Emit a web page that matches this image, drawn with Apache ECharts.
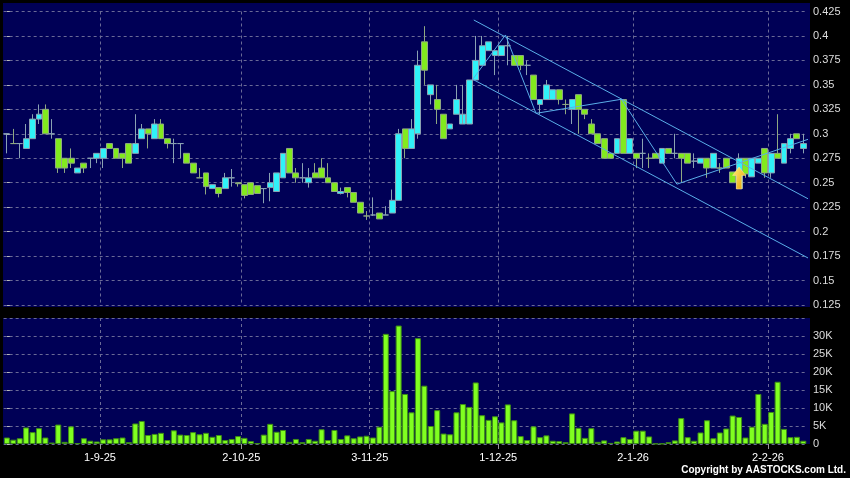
<!DOCTYPE html>
<html><head><meta charset="utf-8">
<script src="https://cdn.jsdelivr.net/npm/echarts@6/dist/echarts.min.js"></script>
<style>html,body{margin:0;padding:0;background:#000;}#c{width:850px;height:478px;}</style>
</head><body><div id="c"></div>
<script>
const dates = ['11-8-25','12-8-25','13-8-25','14-8-25','15-8-25','18-8-25','19-8-25','20-8-25','21-8-25','22-8-25','25-8-25','26-8-25','27-8-25','28-8-25','29-8-25',
'1-9-25','2-9-25','3-9-25','4-9-25','5-9-25','8-9-25','9-9-25','10-9-25','11-9-25','12-9-25','15-9-25','16-9-25','17-9-25','18-9-25','19-9-25','22-9-25','23-9-25','24-9-25','25-9-25','26-9-25','29-9-25','30-9-25',
'2-10-25','3-10-25','6-10-25','8-10-25','9-10-25','10-10-25','13-10-25','14-10-25','15-10-25','16-10-25','17-10-25','20-10-25','21-10-25','22-10-25','23-10-25','24-10-25','27-10-25','28-10-25','30-10-25','31-10-25',
'3-11-25','4-11-25','5-11-25','6-11-25','7-11-25','10-11-25','11-11-25','12-11-25','13-11-25','14-11-25','17-11-25','18-11-25','19-11-25','20-11-25','21-11-25','24-11-25','25-11-25','26-11-25','27-11-25','28-11-25',
'1-12-25','2-12-25','3-12-25','4-12-25','5-12-25','8-12-25','9-12-25','10-12-25','11-12-25','12-12-25','15-12-25','16-12-25','17-12-25','18-12-25','19-12-25','22-12-25','23-12-25','24-12-25','29-12-25','30-12-25','31-12-25',
'2-1-26','5-1-26','6-1-26','7-1-26','8-1-26','9-1-26','12-1-26','13-1-26','14-1-26','15-1-26','16-1-26','19-1-26','20-1-26','21-1-26','22-1-26','23-1-26','26-1-26','27-1-26','28-1-26','29-1-26','30-1-26',
'2-2-26','3-2-26','4-2-26','5-2-26','6-2-26','9-2-26'];

const openP = [0.3,0.29,0.29,0.285,0.295,0.315,0.325,0.3,0.295,0.275,0.275,0.26,0.27,0.275,0.275,
0.275,0.29,0.285,0.28,0.29,0.28,0.295,0.305,0.295,0.31,0.295,0.29,0.29,0.28,0.27,0.255,0.26,0.244,0.245,0.244,0.255,0.25,
0.248,0.25,0.247,0.244,0.245,0.241,0.255,0.285,0.26,0.255,0.25,0.26,0.265,0.255,0.25,0.239,0.245,0.24,0.23,0.216,
0.217,0.219,0.217,0.219,0.232,0.305,0.285,0.3,0.394,0.34,0.335,0.32,0.305,0.32,0.31,0.31,0.355,0.37,0.385,0.38,
0.38,0.39,0.38,0.38,0.37,0.36,0.33,0.335,0.335,0.345,0.33,0.325,0.34,0.325,0.31,0.3,0.295,0.28,0.28,0.335,0.28,
0.28,0.28,0.275,0.28,0.27,0.285,0.28,0.28,0.28,0.272,0.27,0.275,0.265,0.265,0.275,0.261,0.244,0.275,0.256,0.27,0.285,
0.26,0.28,0.27,0.285,0.3,0.285];
const closeP = [0.3,0.29,0.29,0.295,0.315,0.32,0.3,0.3,0.265,0.265,0.27,0.265,0.265,0.275,0.28,
0.285,0.285,0.275,0.275,0.27,0.29,0.305,0.3,0.31,0.295,0.29,0.29,0.29,0.27,0.26,0.255,0.246,0.248,0.239,0.255,0.255,0.249,
0.237,0.238,0.239,0.244,0.25,0.26,0.28,0.26,0.255,0.255,0.255,0.255,0.255,0.25,0.241,0.241,0.24,0.23,0.219,0.216,
0.217,0.213,0.217,0.232,0.3,0.285,0.305,0.37,0.365,0.35,0.325,0.295,0.31,0.335,0.32,0.355,0.375,0.39,0.394,0.385,
0.39,0.39,0.37,0.37,0.37,0.335,0.335,0.35,0.345,0.335,0.33,0.335,0.325,0.32,0.3,0.29,0.275,0.275,0.295,0.28,0.295,
0.275,0.28,0.275,0.275,0.285,0.28,0.28,0.275,0.27,0.272,0.275,0.265,0.28,0.265,0.265,0.25,0.275,0.259,0.275,0.275,0.26,
0.28,0.275,0.29,0.295,0.295,0.29];
const lowP = [0.28,0.29,0.275,0.285,0.295,0.31,0.3,0.295,0.26,0.26,0.265,0.26,0.26,0.265,0.27,
0.265,0.285,0.275,0.265,0.27,0.28,0.295,0.285,0.295,0.295,0.285,0.27,0.275,0.27,0.26,0.255,0.238,0.244,0.235,0.244,0.246,0.246,
0.234,0.238,0.239,0.229,0.231,0.241,0.255,0.26,0.25,0.25,0.245,0.255,0.255,0.25,0.241,0.238,0.235,0.23,0.219,0.212,
0.216,0.213,0.217,0.219,0.232,0.275,0.285,0.295,0.35,0.33,0.31,0.295,0.305,0.32,0.32,0.31,0.355,0.37,0.385,0.36,
0.38,0.37,0.37,0.365,0.36,0.335,0.32,0.335,0.335,0.33,0.32,0.31,0.3,0.315,0.3,0.29,0.275,0.275,0.28,0.28,0.28,
0.265,0.265,0.265,0.275,0.27,0.28,0.275,0.25,0.27,0.265,0.27,0.255,0.265,0.26,0.265,0.25,0.244,0.255,0.256,0.27,0.255,
0.255,0.275,0.27,0.28,0.295,0.28];
const highP = [0.3,0.305,0.29,0.31,0.32,0.33,0.33,0.315,0.295,0.275,0.285,0.265,0.27,0.275,0.28,
0.285,0.29,0.285,0.28,0.29,0.32,0.31,0.305,0.315,0.315,0.295,0.295,0.29,0.28,0.27,0.265,0.26,0.248,0.245,0.26,0.264,0.25,
0.248,0.25,0.247,0.244,0.26,0.26,0.28,0.285,0.265,0.27,0.265,0.27,0.275,0.27,0.25,0.245,0.245,0.24,0.23,0.221,
0.235,0.219,0.226,0.243,0.305,0.305,0.315,0.385,0.41,0.35,0.35,0.32,0.31,0.35,0.35,0.355,0.4,0.4,0.394,0.385,
0.39,0.4,0.38,0.38,0.375,0.36,0.335,0.355,0.345,0.345,0.335,0.335,0.34,0.325,0.315,0.3,0.295,0.28,0.295,0.335,0.295,
0.28,0.295,0.28,0.28,0.285,0.285,0.3,0.28,0.28,0.28,0.275,0.275,0.28,0.27,0.275,0.261,0.28,0.275,0.275,0.275,0.285,
0.28,0.32,0.29,0.3,0.3,0.3];
const volume = [1800,1200,1600,4600,3300,4400,1800,400,5400,600,4900,200,1600,900,700,
1300,1300,1600,1800,500,5700,6400,2500,2800,3100,1100,3800,2600,2500,3300,2700,3100,2000,2500,1100,1400,2200,
1700,800,200,2600,5600,3400,3900,600,1400,500,1400,900,4100,1100,3900,1400,2400,1600,2100,2300,
1800,4800,30600,14700,32900,13900,8800,29400,16200,5000,9400,2900,2700,8800,11100,10300,17100,8000,6700,7700,
6000,11000,6600,2200,1100,4900,1900,2400,900,800,500,8500,4500,1700,4400,600,1000,300,700,1900,1400,
3700,3700,2100,100,100,500,1000,7200,1900,900,3200,6600,1600,3200,4300,7900,7500,1800,4800,13900,5600,
8900,17300,4200,1900,2000,900];

const tickLabels = ['1-9-25','2-10-25','3-11-25','1-12-25','2-1-26','2-2-26'];
const volTickLabels = ['0','5K','10K','15K','20K','25K','30K'];

// trend annotations, [trading-day index, price]
const upperChannel = [[72.7,0.4163],[125.04,0.2325]];
const lowerChannel = [[72.53,0.3557],[125.04,0.172]];
const zigzag = [[72.53,0.3557],[77.63,0.401],[82.38,0.3209],[95.69,0.3353],[104.33,0.2485],[125.2,0.2954]];
const arrowPoint = [114.2, 0.2548];

const NAVY = '#000056';
const GRIDC = '#6A6A96';
const LINEC = '#5AAEE8';

const candleData = dates.map((d,i)=>[openP[i], closeP[i], lowP[i], highP[i]]);
const tickPos = tickLabels.map(t => dates.indexOf(t) - 0.5);
const fmtDate = v => dates[Math.round(v + 0.5)] || '';

const chart = echarts.init(document.getElementById('c'), null, {renderer:'canvas'});
const font = '"Liberation Sans", Arial, sans-serif';
const trendSeries = (data) => ({type:'line', xAxisIndex:2, yAxisIndex:0, data, symbol:'none', clip:false, silent:true,
  lineStyle:{color:LINEC, width:1}, z:5});

chart.setOption({
  animation:false,
  backgroundColor:'#000',
  graphic:[
    {type:'rect', z:-10, silent:true, shape:{x:3,y:3,width:807,height:304}, style:{fill:NAVY}},
    {type:'rect', z:-10, silent:true, shape:{x:3,y:318,width:807,height:126}, style:{fill:NAVY}},
    {type:'text', right:4, top:465, silent:true, style:{text:'Copyright by AASTOCKS.com Ltd.', fill:'#fff', font:'bold 10px ' + font}}
  ],
  grid:[
    {left:3.65, right:43.5, top:11.5, height:293.5},
    {left:3.65, right:43.5, top:318, height:126}
  ],
  xAxis:[
    {type:'category', gridIndex:0, data:dates, boundaryGap:true, show:false, position:'bottom'},
    {type:'category', gridIndex:1, data:dates, boundaryGap:true, show:false, position:'bottom'},
    {type:'value', gridIndex:0, min:-0.5, max:124.5, position:'bottom',
      axisLine:{show:false}, axisLabel:{show:false}, axisTick:{show:false, customValues:tickPos},
      splitLine:{show:true, lineStyle:{color:GRIDC, type:[3,3], width:1}}},
    {type:'value', gridIndex:1, min:-0.5, max:124.5, position:'bottom',
      axisLine:{show:false},
      axisTick:{show:true, customValues:tickPos, length:5, lineStyle:{color:'#999'}},
      axisLabel:{show:true, customValues:tickPos, formatter:fmtDate, color:'#fff', fontSize:11, fontFamily:font, margin:8},
      splitLine:{show:true, lineStyle:{color:GRIDC, type:[3,3], width:1}}}
  ],
  yAxis:[
    {type:'value', gridIndex:0, position:'right', offset:3.5, min:0.125, max:0.425, interval:0.025,
      axisLine:{show:false}, axisTick:{show:true, length:3, lineStyle:{color:'#bbb'}},
      axisLabel:{color:'#ddd', fontSize:11, fontFamily:font, margin:3},
      splitLine:{show:true, lineStyle:{color:GRIDC, type:[3,3], width:1}}},
    {type:'value', gridIndex:1, position:'right', offset:3.5, min:0, max:35000, interval:5000,
      axisLine:{show:false}, axisTick:{show:true, length:3, lineStyle:{color:'#bbb'}},
      axisLabel:{color:'#ddd', fontSize:11, fontFamily:font, margin:3, showMaxLabel:false,
        formatter: v => volTickLabels[Math.round(v/5000)] || ''},
      splitLine:{show:true, lineStyle:{color:GRIDC, type:[3,3], width:1}}}
  ],
  series:[
    {type:'candlestick', xAxisIndex:0, yAxisIndex:0, data:candleData, barWidth:6.4, barMaxWidth:7,
      itemStyle:{color:'#30F2F8', color0:'#82EA1E', borderColor:'#8AA2B2', borderColor0:'#8FA882', borderWidth:1},
      markPoint:{silent:true, label:{show:false}, data:[{coord:arrowPoint, symbol:'path://M6,0 L12,8 L8.5,8 L8.5,21 L3.5,21 L3.5,8 L0,8 Z',
        symbolSize:[13,22], symbolKeepAspect:false,
        itemStyle:{color:new echarts.graphic.LinearGradient(0,0,1,1,[{offset:0,color:'#FFF27A'},{offset:1,color:'#E89A00'}]), borderColor:'#FFE9A0', borderWidth:0.5}}]}},
    trendSeries(upperChannel),
    trendSeries(lowerChannel),
    trendSeries(zigzag),
    {type:'bar', xAxisIndex:1, yAxisIndex:1, data:volume, barWidth:6,
      itemStyle:{color:'#80FF20', borderColor:'#3E8E16', borderWidth:1}}
  ]
});
</script></body></html>
